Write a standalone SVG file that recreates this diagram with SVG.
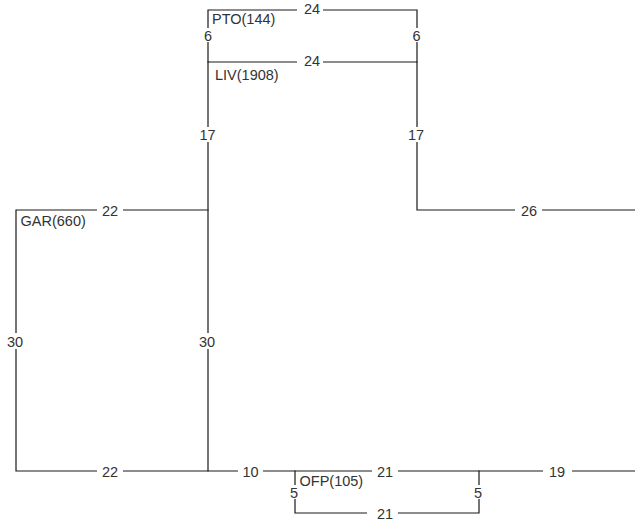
<svg xmlns="http://www.w3.org/2000/svg" width="635" height="521" viewBox="0 0 635 521">
<style>
.w{fill:none;stroke:#1a1a1a;stroke-width:1.2;stroke-linecap:square}
.g{fill:#fff}
.d{font-family:"Liberation Sans",Arial,sans-serif;font-size:14.5px;fill:#333;text-anchor:middle}
.n{font-family:"Liberation Sans",Arial,sans-serif;font-size:14.5px;fill:#333}
</style>
<rect width="635" height="521" fill="#fff"/>
<g id="walls">
<path class="w" d="M208,62 V10 H417 V62 M208,62 H417"/>
<path class="w" d="M208,62 V471 M417,62 V210 H635"/>
<path class="w" d="M208,210 H16 V471 H635"/>
<path class="w" d="M295,471 V513 H479 V471"/>
</g>
<g id="gaps">
<rect class="g" x="297" y="3" width="26" height="14"/>
<rect class="g" x="297" y="55" width="26" height="14"/>
<rect class="g" x="204" y="28" width="8" height="14"/>
<rect class="g" x="413" y="28" width="8" height="14"/>
<rect class="g" x="204" y="127" width="8" height="15"/>
<rect class="g" x="413" y="127" width="8" height="15"/>
<rect class="g" x="97" y="203" width="26" height="14"/>
<rect class="g" x="515" y="203" width="27" height="14"/>
<rect class="g" x="12" y="333" width="8" height="16"/>
<rect class="g" x="204" y="333" width="8" height="16"/>
<rect class="g" x="97" y="464" width="26" height="14"/>
<rect class="g" x="238" y="464" width="25" height="14"/>
<rect class="g" x="372" y="464" width="26" height="14"/>
<rect class="g" x="543" y="464" width="29" height="14"/>
<rect class="g" x="291" y="485" width="8" height="14"/>
<rect class="g" x="475" y="485" width="8" height="14"/>
<rect class="g" x="367" y="506" width="31" height="15"/>
</g>
<g id="PTO">
<text class="n" x="212" y="24">PTO(144)</text>
<text class="d" x="312" y="13.5">24</text>
<text class="d" x="208" y="41">6</text>
<text class="d" x="416.5" y="41">6</text>
</g>
<g id="LIV">
<text class="n" x="215" y="80.3">LIV(1908)</text>
<text class="d" x="312" y="66.3">24</text>
<text class="d" x="207.5" y="139.5">17</text>
<text class="d" x="416" y="139.5">17</text>
<text class="d" x="529" y="216">26</text>
<text class="d" x="207" y="346.5">30</text>
<text class="d" x="250.5" y="477">10</text>
<text class="d" x="557" y="477">19</text>
</g>
<g id="GAR">
<text class="n" x="20.5" y="225.5">GAR(660)</text>
<text class="d" x="110" y="216.3">22</text>
<text class="d" x="15" y="346.5">30</text>
<text class="d" x="110" y="477">22</text>
</g>
<g id="OFP">
<text class="n" x="299.5" y="485.5">OFP(105)</text>
<text class="d" x="385" y="477">21</text>
<text class="d" x="294" y="498">5</text>
<text class="d" x="478" y="498">5</text>
<text class="d" x="385" y="518.5">21</text>
</g>
</svg>
